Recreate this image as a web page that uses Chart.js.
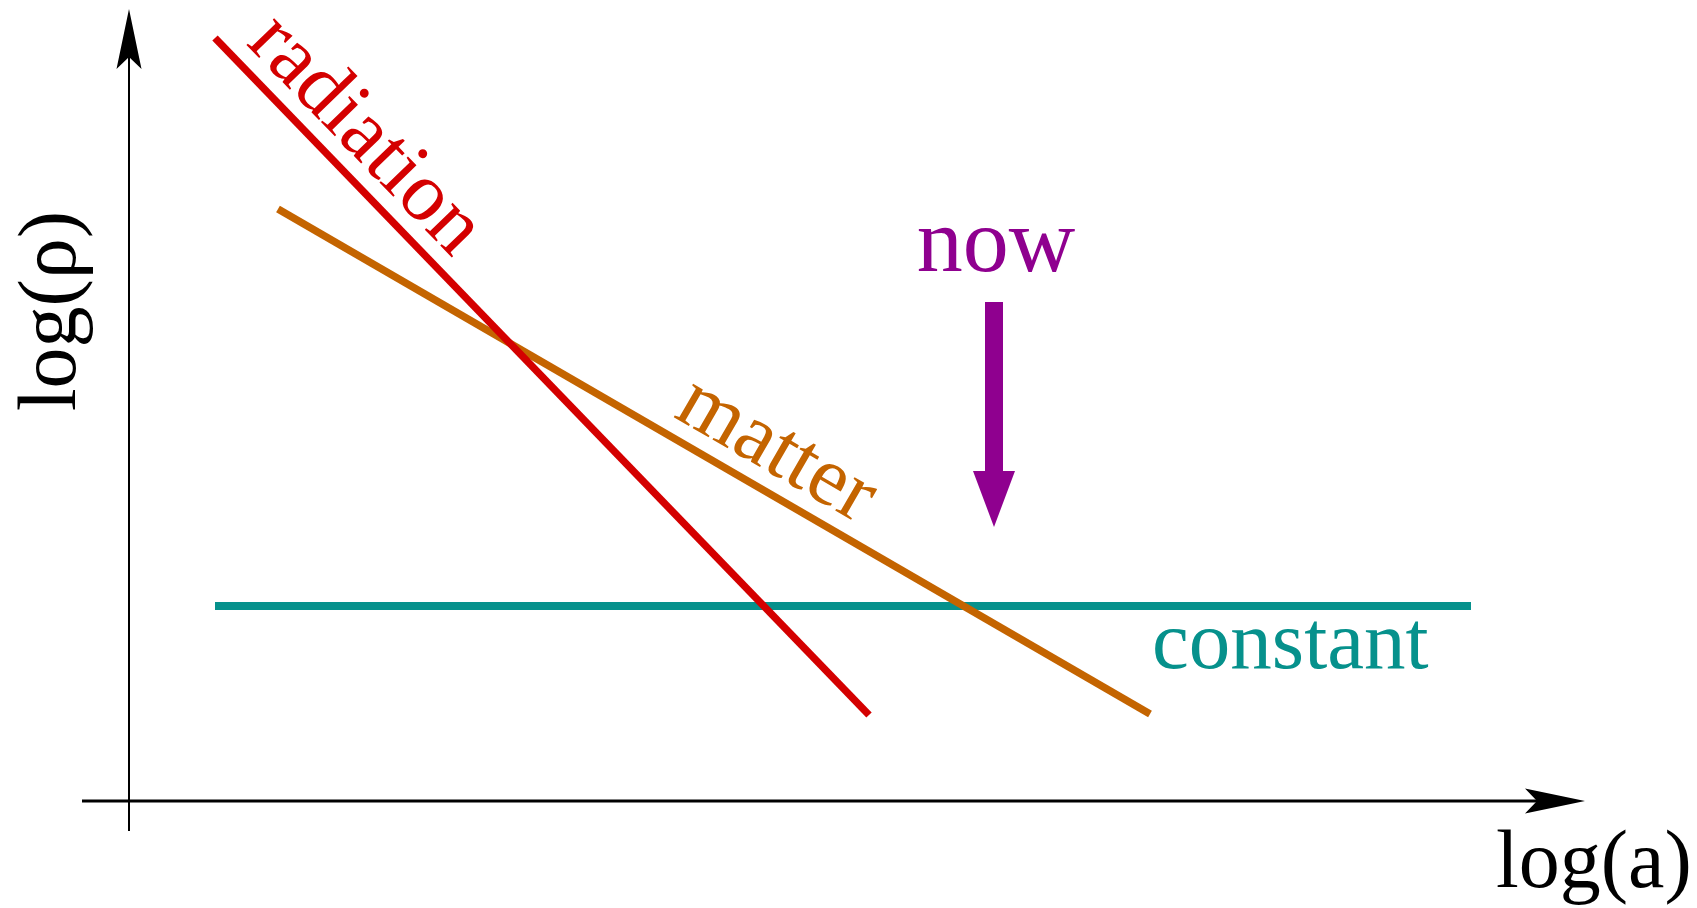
<!DOCTYPE html>
<html>
<head>
<meta charset="utf-8">
<script src="https://cdn.jsdelivr.net/npm/chart.js@4"></script>
<style>
  html, body { margin: 0; padding: 0; background: #fff; }
  #wrap { width: 1697px; height: 908px; }
</style>
</head>
<body>
<div id="wrap"><canvas id="densityChart"></canvas></div>
<script>
// log(a) / log(rho) in arbitrary units, origin where the two axes cross
const radiationX = [0.86, 7.40];
const radiationY = [7.63, 0.86];
const matterX = [1.49, 10.21];
const matterY = [5.92, 0.87];
const constantX = [0.86, 13.42];
const constantY = [1.95, 1.95];

// "now" marker: x position, top of the shaft, tip of the head
const nowX = 8.65;
const nowTop = 4.99;
const nowTip = 2.74;

// axis extents (start, arrow tip)
const xAxisRange = [-0.47, 14.56];
const yAxisRange = [-0.30, 7.92];

const labelNames = ['radiation', 'matter', 'constant', 'now'];
const labelX = [2.20, 6.36, 10.23, 8.67];
const labelY = [6.50, 3.31, 1.33, 5.30];

const RED = '#d40000', ORANGE = '#c46400', TEAL = '#06918c', PURPLE = '#8f008f';
const SERIF = '"Liberation Serif", "DejaVu Serif", serif';

const pts = (xs, ys) => xs.map((x, i) => ({ x: x, y: ys[i] }));

function arrowHead(ctx, tx, ty, dx, dy) {
    // dx,dy: unit vector pointing toward the tip
    const len = 60, half = 12.5, notch = 48;
    const nx = -dy, ny = dx;
    ctx.beginPath();
    ctx.moveTo(tx, ty);
    ctx.lineTo(tx - dx * len + nx * half, ty - dy * len + ny * half);
    ctx.lineTo(tx - dx * notch, ty - dy * notch);
    ctx.lineTo(tx - dx * len - nx * half, ty - dy * len - ny * half);
    ctx.closePath();
    ctx.fill();
}

function slopeAngle(xScale, yScale, xs, ys) {
    const x0 = xScale.getPixelForValue(xs[0]), y0 = yScale.getPixelForValue(ys[0]);
    const x1 = xScale.getPixelForValue(xs[1]), y1 = yScale.getPixelForValue(ys[1]);
    return Math.atan2(y1 - y0, x1 - x0);
}

function drawText(ctx, text, px, py, angle, color, size, align) {
    ctx.save();
    ctx.translate(px, py);
    ctx.rotate(angle);
    ctx.font = size + 'px ' + SERIF;
    ctx.fillStyle = color;
    ctx.textAlign = align;
    ctx.textBaseline = 'alphabetic';
    ctx.fillText(text, 0, 0);
    ctx.restore();
}

const sketchPlugin = {
    id: 'sketch',
    beforeDatasetsDraw(chart) {
        const ctx = chart.ctx, xs = chart.scales.x, ys = chart.scales.y;
        const ox = xs.getPixelForValue(0), oy = ys.getPixelForValue(0);
        ctx.save();
        ctx.strokeStyle = '#000';
        ctx.fillStyle = '#000';
        ctx.lineCap = 'butt';
        // horizontal axis
        const xa = xs.getPixelForValue(xAxisRange[0]), xb = xs.getPixelForValue(xAxisRange[1]);
        ctx.lineWidth = 3;
        ctx.beginPath();
        ctx.moveTo(xa, oy);
        ctx.lineTo(xb - 40, oy);
        ctx.stroke();
        arrowHead(ctx, xb, oy, 1, 0);
        // vertical axis
        const ya = ys.getPixelForValue(yAxisRange[0]), yb = ys.getPixelForValue(yAxisRange[1]);
        ctx.lineWidth = 2;
        ctx.beginPath();
        ctx.moveTo(ox, ya);
        ctx.lineTo(ox, yb + 40);
        ctx.stroke();
        arrowHead(ctx, ox, yb, 0, -1);
        ctx.restore();

        drawText(ctx, 'log(a)', xs.getPixelForValue(13.67), ys.getPixelForValue(-0.86), 0, '#000', 82, 'left');
        drawText(ctx, 'log(ρ)', xs.getPixelForValue(-0.54), ys.getPixelForValue(4.90), -Math.PI / 2, '#000', 82, 'center');
    },
    afterDatasetsDraw(chart) {
        const ctx = chart.ctx, xs = chart.scales.x, ys = chart.scales.y;

        // "now" arrow
        const ax = xs.getPixelForValue(nowX);
        const top = ys.getPixelForValue(nowTop), tip = ys.getPixelForValue(nowTip);
        const headLen = 56, shaftW = 18, headW = 42;
        ctx.save();
        ctx.fillStyle = PURPLE;
        ctx.fillRect(ax - shaftW / 2, top, shaftW, tip - headLen - top + 1);
        ctx.beginPath();
        ctx.moveTo(ax - headW / 2, tip - headLen);
        ctx.lineTo(ax + headW / 2, tip - headLen);
        ctx.lineTo(ax, tip);
        ctx.closePath();
        ctx.fill();
        ctx.restore();

        const angles = [
            slopeAngle(xs, ys, radiationX, radiationY),
            slopeAngle(xs, ys, matterX, matterY),
            0, 0
        ];
        const colors = [RED, ORANGE, TEAL, PURPLE];
        const sizes = [84, 84, 83, 92];
        const aligns = ['center', 'center', 'left', 'center'];
        labelNames.forEach((name, i) => {
            drawText(ctx, name, xs.getPixelForValue(labelX[i]), ys.getPixelForValue(labelY[i]),
                angles[i], colors[i], sizes[i], aligns[i]);
        });
    }
};

const lineSet = (label, data, color, width) => ({
    label: label,
    data: data,
    showLine: true,
    borderColor: color,
    backgroundColor: color,
    borderWidth: width,
    borderCapStyle: 'butt',
    pointRadius: 0,
    pointHoverRadius: 0,
    fill: false
});

new Chart(document.getElementById('densityChart'), {
    type: 'scatter',
    data: {
        datasets: [
            lineSet('radiation', pts(radiationX, radiationY), RED, 7.5),
            lineSet('matter', pts(matterX, matterY), ORANGE, 7.5),
            lineSet('constant', pts(constantX, constantY), TEAL, 8)
        ]
    },
    options: {
        responsive: true,
        maintainAspectRatio: false,
        animation: false,
        layout: { padding: 0 },
        scales: {
            x: { type: 'linear', display: false, min: -1.29, max: 15.68 },
            y: { type: 'linear', display: false, min: -1.07, max: 8.01 }
        },
        plugins: {
            legend: { display: false },
            tooltip: { enabled: false }
        }
    },
    plugins: [sketchPlugin]
});
</script>
</body>
</html>
